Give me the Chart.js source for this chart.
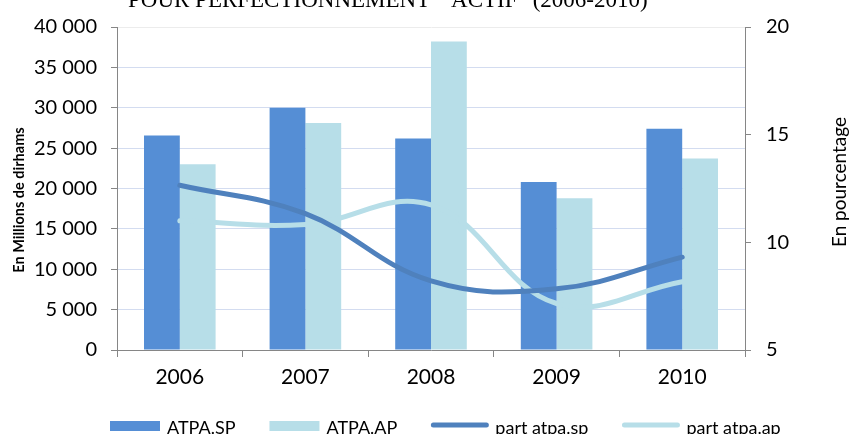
<!DOCTYPE html>
<html>
<head>
<meta charset="utf-8">
<script src="https://cdn.jsdelivr.net/npm/chart.js@4"></script>
<style>
  html, body { margin: 0; padding: 0; background: #fff; }
  #wrap { width: 852px; height: 434px; overflow: hidden; }
</style>
</head>
<body>
<div id="wrap"><canvas id="chart" width="852" height="434"></canvas></div>
<script>
// --- Données (2006-2010) ---
const years = ['2006', '2007', '2008', '2009', '2010'];
// En millions de dirhams
const atpaSP = [26550, 30000, 26200, 20800, 27400];
const atpaAP = [23000, 28100, 38200, 18800, 23700];
// En pourcentage
const partSP = [12.65, 11.33, 8.21, 7.84, 9.31];
const partAP = [11.0, 10.83, 11.74, 7.16, 8.17];

const TITLE = 'POUR PERFECTIONNEMENT  "ACTIF" (2006-2010)';
const AXIS_GREY = '#868686';
const FONT = 'Lato';

// séparateur de milliers avec espace : 40 000
const fmtMillions = (v) => String(v).replace(/\B(?=(\d{3})+(?!\d))/g, ' ');

// Titre coupé, titres d'axes et légende dessinés à la main
const decorPlugin = {
    id: 'decor',
    afterDraw(chart) {
        const ctx = chart.ctx;
        ctx.save();
        ctx.fillStyle = '#000';

        ctx.font = '23px "Liberation Serif"';
        ctx.textAlign = 'left';
        ctx.textBaseline = 'alphabetic';
        ctx.fillText(TITLE, 128, 7);

        // axe gauche (gras) et axe droit, lus de bas en haut
        ctx.textAlign = 'center';
        ctx.textBaseline = 'middle';
        ctx.save();
        ctx.translate(19, 200);
        ctx.rotate(-Math.PI / 2);
        ctx.font = `bold 14.5px ${FONT}`;
        ctx.fillText('En Millions de dirhams', 0, 0);
        ctx.restore();

        ctx.save();
        ctx.translate(840, 182);
        ctx.rotate(-Math.PI / 2);
        ctx.font = `19px ${FONT}`;
        ctx.fillText('En pourcentage', 0, 0);
        ctx.restore();

        // légende en bas
        ctx.font = `18px ${FONT}`;
        ctx.textAlign = 'left';
        ctx.textBaseline = 'alphabetic';
        let x = 110;
        chart.data.datasets.forEach((ds) => {
            const isLine = ds.type === 'line';
            if (isLine) {
                ctx.strokeStyle = ds.borderColor;
                ctx.lineWidth = 5;
                ctx.lineCap = 'round';
                ctx.beginPath();
                ctx.moveTo(x + 2, 425);
                ctx.lineTo(x + 55, 425);
                ctx.stroke();
                x += 57;
            } else {
                ctx.fillStyle = ds.backgroundColor;
                ctx.fillRect(x, 421, 50, 10);
                x += 50;
            }
            x += 7;
            ctx.fillStyle = '#000';
            ctx.fillText(ds.label, x, 434);
            x += ctx.measureText(ds.label).width + 34;
        });
        ctx.restore();
    }
};

new Chart(document.getElementById('chart'), {
    type: 'bar',
    data: {
        labels: years,
        datasets: [
            {
                label: 'ATPA.SP',
                data: atpaSP,
                backgroundColor: '#558ed5',
                yAxisID: 'y',
                order: 3
            },
            {
                label: 'ATPA.AP',
                data: atpaAP,
                backgroundColor: '#b7dee8',
                yAxisID: 'y',
                order: 3
            },
            {
                type: 'line',
                label: 'part atpa.sp',
                data: partSP,
                borderColor: '#4f81bd',
                borderWidth: 5,
                borderCapStyle: 'round',
                tension: 0.4,
                pointRadius: 0,
                fill: false,
                yAxisID: 'y1',
                order: 1
            },
            {
                type: 'line',
                label: 'part atpa.ap',
                data: partAP,
                borderColor: '#b7dee8',
                borderWidth: 5,
                borderCapStyle: 'round',
                tension: 0.4,
                pointRadius: 0,
                fill: false,
                yAxisID: 'y1',
                order: 2
            }
        ]
    },
    options: {
        responsive: false,
        animation: false,
        devicePixelRatio: 1,
        layout: { padding: { top: 23, left: 0, right: 0, bottom: 0 } },
        datasets: {
            bar: { categoryPercentage: 0.57, barPercentage: 1.0 }
        },
        plugins: {
            legend: { display: false },
            title: { display: false },
            tooltip: { enabled: false }
        },
        scales: {
            x: {
                grid: {
                    offset: true,
                    drawOnChartArea: false,
                    tickLength: 7,
                    tickColor: AXIS_GREY
                },
                border: { color: AXIS_GREY, width: 1 },
                ticks: {
                    font: { family: FONT, size: 21 },
                    color: '#000',
                    padding: 8
                },
                afterFit: (s) => { s.height = 84; }
            },
            y: {
                position: 'left',
                min: 0,
                max: 40000,
                ticks: {
                    stepSize: 5000,
                    callback: (v) => fmtMillions(v),
                    font: { family: FONT, size: 20 },
                    color: '#000',
                    padding: 14
                },
                grid: {
                    color: (c) => (c.tick && c.tick.value === 40000 ? '#ececec' : '#d3dcf0'),
                    tickColor: AXIS_GREY,
                    tickLength: 6
                },
                border: { color: AXIS_GREY, width: 1 },
                afterFit: (s) => { s.width = 117; }
            },
            y1: {
                position: 'right',
                min: 5,
                max: 20,
                ticks: {
                    stepSize: 5,
                    font: { family: FONT, size: 20 },
                    color: '#000',
                    padding: 15
                },
                grid: {
                    drawOnChartArea: false,
                    tickColor: AXIS_GREY,
                    tickLength: 6
                },
                border: { color: AXIS_GREY, width: 1 },
                afterFit: (s) => { s.width = 107; }
            }
        }
    },
    plugins: [decorPlugin]
});
</script>
</body>
</html>
